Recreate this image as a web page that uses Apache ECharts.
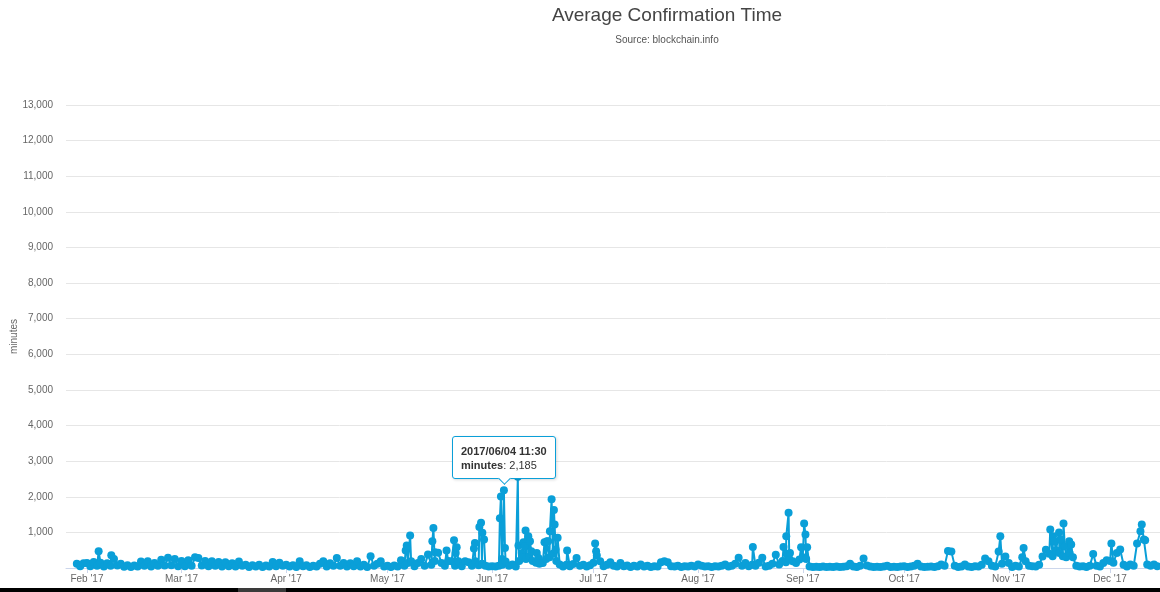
<!DOCTYPE html>
<html>
<head>
<meta charset="utf-8">
<script src="https://cdn.jsdelivr.net/npm/echarts@6/dist/echarts.min.js"></script>
<style>
html,body{margin:0;padding:0;background:#fff;overflow:hidden}
#chart{width:1160px;height:592px}
</style>
</head>
<body>
<div id="chart"></div>
<script>
// ---------- data (minutes) ----------
const chartTitle = 'Average Confirmation Time';
const chartSubtitle = 'Source: blockchain.info';
const seriesName = 'minutes';

const monthStarts = ['2017-02-01','2017-03-01','2017-04-01','2017-05-01','2017-06-01','2017-07-01',
                     '2017-08-01','2017-09-01','2017-10-01','2017-11-01','2017-12-01'];
const monthLabels = ["Feb '17","Mar '17","Apr '17","May '17","Jun '17","Jul '17",
                     "Aug '17","Sep '17","Oct '17","Nov '17","Dec '17"];

// daily readings (one value per day, 00:00), each list starts at the given first day
const daysJan = [120, 50, 130]; // from 2017-01-29
const daysFeb = [140,50,170,60,150,40,130,60,250,70, 120,35,80,30,70,40,180,60,190,40, 140,60,230,70,290,80,250,50];
const daysMar = [200,50,220,60,300,280,70,200,50,190, 60,170,40,160,50,130,40,180,60,90, 30,80,40,90,30,70,40,170,50,150,60];
const daysApr = [90,40,80,30,190,50,80,30,60,40, 120,190,40,130,60,280,60,140,40,130, 50,190,40,90,30,330,60,120,190,40];
const daysMay = [60,30,70,40,220,60,140,190,50,140, 255,60,380,90,200,425,140,60,200,190, 60,190,50,190,160,60,190,80,120,60,40];
const daysJun = [50,40,60,90,180,60,100,40,200,300, 250,330,200,150,120,140,250,300,400,200, 100,40,90,50,110,280,60,90,40,80];
const daysJul = [150,350,190,50,90,160,60,40,140,50, 70,30,60,40,95,40,60,30,50,40, 160,190,160,50,40,60,30,50,40,60,40];
const daysAug = [95,60,40,50,30,50,40,60,95,40, 60,120,290,60,140,50,90,60,150,290, 40,60,120,370,100,200,160,250,190,140,240];
const daysSep = [300,250,40,30,35,30,40,30,35,30, 40,30,35,50,120,40,30,60,270,70, 40,30,35,30,40,60,30,35,30,40];
const daysOct = [50,30,40,60,120,40,30,35,40,30, 50,95,60,480,460,60,30,40,95,40, 30,50,40,90,270,190,60,40,460,120,320];
const daysNov = [140,30,60,40,300,190,60,50,40,90, 320,510,400,330,500,420,330,300,420,300, 60,40,50,30,60,390,60,40,140,215];
const daysDec = [200,150,420,520,90,40,95,60,690,1030, 800,95,60,95,50,90];
const dailyBlocks = [
  ['2017-01-29', daysJan], ['2017-02-01', daysFeb], ['2017-03-01', daysMar], ['2017-04-01', daysApr],
  ['2017-05-01', daysMay], ['2017-06-01', daysJun], ['2017-07-01', daysJul], ['2017-08-01', daysAug],
  ['2017-09-01', daysSep], ['2017-10-01', daysOct], ['2017-11-01', daysNov], ['2017-12-01', daysDec]
];

// intra-day readings (peaks)
const peakTimes = [
  '2017-02-04 11:00','2017-02-08 05:00',
  '2017-05-06 09:30','2017-05-06 17:00','2017-05-07 17:00','2017-05-14 07:00','2017-05-14 14:30','2017-05-15 02:30',
  '2017-05-18 12:00','2017-05-20 17:00','2017-05-21 05:00','2017-05-21 12:00','2017-05-26 14:30','2017-05-26 21:30',
  '2017-05-28 05:00','2017-05-28 17:00','2017-05-29 02:30','2017-05-29 14:30',
  '2017-06-03 07:00','2017-06-03 14:30','2017-06-03 21:30','2017-06-04 11:30','2017-06-04 19:00',
  '2017-06-08 14:30','2017-06-08 19:00','2017-06-09 19:00','2017-06-10 07:00','2017-06-10 14:30','2017-06-10 21:30',
  '2017-06-11 17:00','2017-06-12 05:00','2017-06-12 14:30','2017-06-14 05:00','2017-06-14 17:00','2017-06-16 12:00',
  '2017-06-17 05:00','2017-06-17 14:30','2017-06-18 02:30','2017-06-18 14:30','2017-06-19 07:00','2017-06-19 12:00',
  '2017-06-19 19:00','2017-06-20 09:30','2017-06-23 05:00',
  '2017-07-01 12:00','2017-07-01 19:00',
  '2017-08-17 05:00','2017-08-26 07:00','2017-08-27 02:30','2017-08-27 19:00','2017-08-28 05:00','2017-08-31 12:00',
  '2017-09-01 09:30','2017-09-01 19:00','2017-09-02 07:00',
  '2017-10-29 12:00',
  '2017-11-05 09:30','2017-11-13 07:00','2017-11-14 02:30','2017-11-14 12:00','2017-11-15 21:30','2017-11-16 07:00',
  '2017-11-17 05:00','2017-11-17 14:30','2017-11-18 21:30','2017-11-19 12:00',
  '2017-12-01 09:30','2017-12-10 09:30','2017-12-11 09:30'
];
const peakMinutes = [
  470, 360,
  490, 630, 910, 750, 1120, 440,
  490, 780, 420, 580, 545, 700,
  1150, 1270, 990, 800,
  1400, 2010, 250, 2185, 560,
  2560, 630, 420, 720, 610, 1050,
  890, 750, 470, 420, 280, 720,
  750, 750, 1030, 1930, 1630, 1220,
  520, 850, 490,
  690, 470,
  590, 590, 890, 1550, 420, 580,
  1250, 940, 580,
  890,
  560, 1080, 890, 750, 1000, 800,
  1250, 610, 750, 660,
  690, 1220, 780
];
const tooltipTime = '2017-06-04 11:30';
const xMin = '2017-01-25 19:00';
const xMax = '2017-12-15 19:00';

// ---------- build ----------
function parseT(s) {
  const m = s.match(/(\d+)-(\d+)-(\d+)(?: (\d+):(\d+))?/);
  return new Date(+m[1], +m[2] - 1, +m[3], +(m[4] || 0), +(m[5] || 0)).getTime();
}
function pad(n) { return (n < 10 ? '0' : '') + n; }
function fmtTime(t) {
  const d = new Date(t);
  return d.getFullYear() + '/' + pad(d.getMonth() + 1) + '/' + pad(d.getDate()) + ' ' + pad(d.getHours()) + ':' + pad(d.getMinutes());
}
const points = [];
dailyBlocks.forEach(([start, vals]) => {
  const d0 = new Date(parseT(start));
  vals.forEach((v, i) => {
    points.push([new Date(d0.getFullYear(), d0.getMonth(), d0.getDate() + i).getTime(), v]);
  });
});
peakTimes.forEach((t, i) => points.push([parseT(t), peakMinutes[i]]));
points.sort((a, b) => a[0] - b[0]);
const tipIndex = points.findIndex(p => p[0] === parseT(tooltipTime));
const monthTimes = monthStarts.map(parseT);

const blue = '#0a9fd8';
const font = 'Liberation Sans, Arial, sans-serif';
const arrowHtml = '<div style="position:absolute;left:50%;bottom:-5px;margin-left:-4px;width:8px;height:8px;' +
  'background:#fff;border-right:1px solid ' + blue + ';border-bottom:1px solid ' + blue + ';transform:rotate(45deg);"></div>';
const chart = echarts.init(document.getElementById('chart'), null, {renderer: 'canvas'});
chart.setOption({
  animation: false,
  textStyle: {fontFamily: font},
  title: {
    text: chartTitle,
    subtext: chartSubtitle,
    left: 662,
    top: 1,
    textAlign: 'center',
    itemGap: 10,
    textStyle: {fontSize: 19, fontWeight: 'normal', color: '#444', fontFamily: font},
    subtextStyle: {fontSize: 10, color: '#555', fontFamily: font}
  },
  grid: {left: 66, right: 0, top: 105, bottom: 24, outerBoundsMode: 'none', containLabel: false},
  tooltip: {
    trigger: 'item',
    triggerOn: 'none',
    alwaysShowContent: true,
    position: (pt, params, dom, rect, size) => {
      const cx = rect ? rect.x + rect.width / 2 : pt[0];
      const cy = rect ? rect.y + rect.height / 2 : pt[1];
      return [cx - size.contentSize[0] / 2, cy - size.contentSize[1] - 11];
    },
    backgroundColor: '#fff',
    borderColor: blue,
    borderWidth: 1,
    borderRadius: 3,
    padding: [7, 8, 6, 8],
    textStyle: {fontSize: 11, color: '#333', fontFamily: font},
    extraCssText: 'box-shadow:1px 1px 3px rgba(0,0,0,0.15);line-height:14px;',
    formatter: p => '<b>' + fmtTime(p.value[0]) + '</b><br/><b>' + p.seriesName + '</b>: ' +
      p.value[1].toLocaleString('en-US') + arrowHtml
  },
  xAxis: {
    type: 'value',
    min: parseT(xMin),
    max: parseT(xMax),
    axisLine: {lineStyle: {color: '#ccd6eb', width: 1}},
    axisTick: {show: true, length: 5, lineStyle: {color: '#ccd6eb'}, customValues: monthTimes},
    axisLabel: {
      customValues: monthTimes,
      formatter: v => monthLabels[monthTimes.indexOf(v)] || '',
      color: '#666', fontSize: 10, margin: 6, fontFamily: font
    },
    splitLine: {show: false}
  },
  yAxis: {
    type: 'value',
    min: 0,
    max: 13000,
    interval: 1000,
    name: 'minutes',
    nameLocation: 'middle',
    nameGap: 47,
    nameMoveOverlap: false,
    nameTextStyle: {color: '#666', fontSize: 10, fontFamily: font},
    axisLine: {show: false},
    axisTick: {show: false},
    axisLabel: {
      showMinLabel: false,
      formatter: v => v.toLocaleString('en-US'),
      color: '#666', fontSize: 10, margin: 13, fontFamily: font
    },
    splitLine: {lineStyle: {color: '#e6e6e6', width: 1}}
  },
  series: [{
    type: 'line',
    name: seriesName,
    data: points,
    symbol: 'circle',
    symbolSize: 8,
    showSymbol: true,
    showAllSymbol: true,
    color: blue,
    itemStyle: {color: blue},
    lineStyle: {color: blue, width: 2},
    emphasis: {disabled: true}
  }],
  graphic: [
    {type: 'rect', left: 0, top: 588, shape: {width: 1160, height: 4}, style: {fill: '#000'}, z: 100},
    {type: 'rect', left: 238, top: 588, shape: {width: 48, height: 4}, style: {fill: '#3a3a3a'}, z: 101}
  ]
});
chart.dispatchAction({type: 'showTip', seriesIndex: 0, dataIndex: tipIndex});
</script>
</body>
</html>
